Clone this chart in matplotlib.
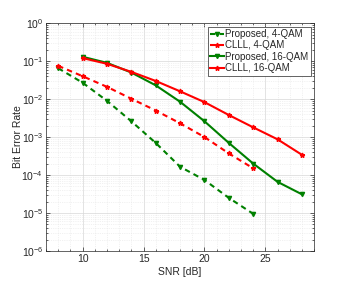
import numpy as np
import matplotlib
matplotlib.use('Agg')
import matplotlib.pyplot as plt
from matplotlib.ticker import LogLocator, MultipleLocator, NullFormatter

snr_4 = [8, 10, 12, 14, 16, 18, 20, 22, 24]
prop_4 = [0.065, 0.027, 0.009, 0.0026, 7e-4, 1.65e-4, 7.4e-5, 2.5e-5, 9.5e-6]
clll_4 = [0.075, 0.04, 0.021, 0.0102, 0.005, 0.0023, 0.001, 3.7e-4, 1.5e-4]

snr_16 = [10, 12, 14, 16, 18, 20, 22, 24, 26, 28]
prop_16 = [0.13, 0.09, 0.05, 0.023, 0.0085, 0.0026, 7e-4, 2e-4, 6.6e-5, 3.1e-5]
clll_16 = [0.12, 0.085, 0.052, 0.03, 0.016, 0.0083, 0.0038, 0.0018, 8.7e-4, 3.4e-4]

green = '#008000'
red = '#ff0000'
txt = '#262626'

plt.rcParams['font.family'] = ['Liberation Sans', 'DejaVu Sans']
plt.rcParams['mathtext.fontset'] = 'custom'
plt.rcParams['mathtext.rm'] = 'Liberation Sans'
fig = plt.figure(figsize=(3.46, 2.82), dpi=100)
ax = fig.add_axes([0.133, 0.110, 0.775, 0.808])

dash = (2.6, 2.0)
ax.semilogy(snr_4, prop_4, '--v', color=green, lw=1.5, ms=3, dashes=dash, label='Proposed, 4-QAM')
ax.semilogy(snr_4, clll_4, '--*', color=red, lw=1.5, ms=3.5, dashes=dash, label='CLLL, 4-QAM')
ax.semilogy(snr_16, prop_16, '-v', color=green, lw=1.5, ms=3, label='Proposed, 16-QAM')
ax.semilogy(snr_16, clll_16, '-*', color=red, lw=1.5, ms=3.5, label='CLLL, 16-QAM')

ax.set_xlim(7, 29)
ax.set_ylim(1e-6, 1)
ax.xaxis.set_major_locator(MultipleLocator(5))
ax.xaxis.set_minor_locator(MultipleLocator(1))
ax.yaxis.set_major_locator(LogLocator(base=10, numticks=10))
ax.yaxis.set_minor_locator(LogLocator(base=10, subs=np.arange(2, 10), numticks=20))
ax.yaxis.set_minor_formatter(NullFormatter())

ax.grid(True, which='major', color='#d8d8d8', lw=0.5)
ax.grid(True, which='minor', color='#e6e6e6', lw=0.4, ls=(0, (2, 2)))
ax.tick_params(which='both', direction='in', top=True, right=True, labelsize=7.5,
               width=0.5, colors=txt, pad=2)
ax.tick_params(which='minor', length=1.5)
ax.tick_params(which='major', length=3)
for s in ax.spines.values():
    s.set_linewidth(0.5)
    s.set_color(txt)

ax.set_xlabel('SNR [dB]', fontsize=7.5, labelpad=2, color=txt)
ax.set_ylabel('Bit Error Rate', fontsize=7.5, labelpad=-1, color=txt)

leg = ax.legend(loc='upper right', fontsize=7.0, handlelength=1.4, handletextpad=0.15,
                borderpad=0.25, labelspacing=0.15, fancybox=False, framealpha=1,
                edgecolor=txt, borderaxespad=0.35)
leg.get_frame().set_linewidth(0.5)
for t in leg.get_texts():
    t.set_color(txt)

fig.savefig('out.png', dpi=100)
